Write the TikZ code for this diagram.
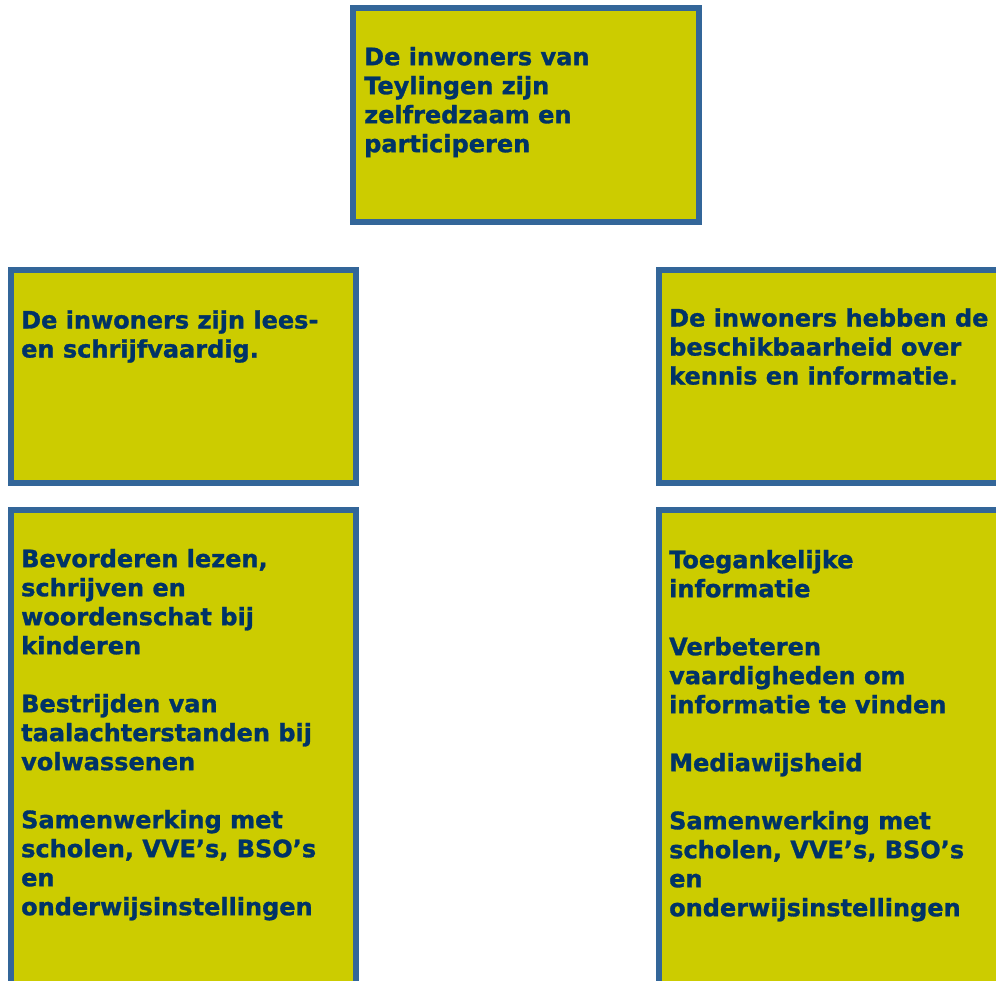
\documentclass[tikz,border=0pt]{standalone}
\usepackage{fontspec}
\setmainfont{DejaVu Sans}[BoldFeatures={FakeBold=1.2}]
\definecolor{boxfill}{HTML}{CCCC00}
\definecolor{boxline}{HTML}{336699}
\definecolor{boxtext}{HTML}{003366}
\tikzset{
  goalbox/.style={draw=boxline, fill=boxfill, line width=6pt},
  goaltext/.style={anchor=north west, inner sep=0pt, align=left, text=boxtext,
    font=\bfseries\fontsize{24}{29}\selectfont}
}
\begin{document}
\begin{tikzpicture}[x=1pt,y=-1pt]
\clip (0,0) rectangle (996,980);
\fill[white] (0,0) rectangle (996,980);
\draw[goalbox] (353,8) rectangle (699,222);
\draw[goalbox] (11,269.5) rectangle (356,483);
\draw[goalbox] (659,269.5) rectangle (1010,483);
\draw[goalbox] (11,510) rectangle (356,1000);
\draw[goalbox] (659,510) rectangle (1010,1000);
\node[goaltext] (top) at (364,44.7) {\strut De inwoners van\\Teylingen zijn\\zelfredzaam en\\participeren};
\node[goaltext] (lm) at (21,308) {\strut De inwoners zijn lees-\\en schrijfvaardig.};
\node[goaltext] (rm) at (669,306) {\strut De inwoners hebben de\\beschikbaarheid over\\kennis en informatie.};
\node[goaltext] (lb) at (21,546.7) {\strut Bevorderen lezen,\\schrijven en\\woordenschat bij\\kinderen\\[29pt]Bestrijden van\\taalachterstanden bij\\volwassenen\\[29pt]Samenwerking met\\scholen, VVE’s, BSO’s\\en\\onderwijsinstellingen};
\node[goaltext] (rb) at (669,547.7) {\strut Toegankelijke\\informatie\\[29pt]Verbeteren\\vaardigheden om\\informatie te vinden\\[29pt]Mediawijsheid\\[29pt]Samenwerking met\\scholen, VVE’s, BSO’s\\en\\onderwijsinstellingen};
\end{tikzpicture}
\end{document}
